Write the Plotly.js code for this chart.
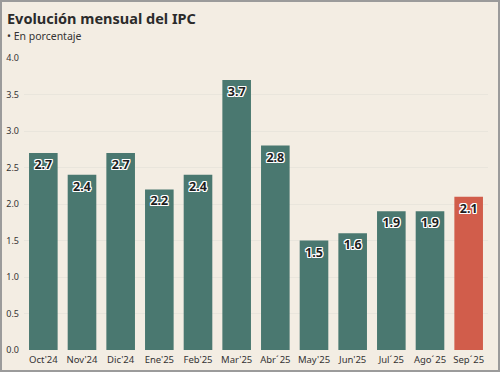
<!DOCTYPE html>
<html>
<head>
<meta charset="utf-8">
<script src="https://cdn.plot.ly/plotly-3.0.1.min.js"></script>
<style>
  html, body { margin: 0; padding: 0; background: #f3ede3; }
  #wrap { width: 500px; height: 372px; box-sizing: border-box; border: 2px solid #9b9b9b; background: #f3ede3; }
  #chart { width: 496px; height: 368px; }
</style>
</head>
<body>
<div id="wrap"><div id="chart"></div></div>
<script>
const categories = ["Oct'24", "Nov'24", "Dic'24", "Ene'25", "Feb'25", "Mar'25", "Abr\u00b4\u200a25", "May'25", "Jun'25", "Jul\u00b4\u200a25", "Ago\u00b4\u200a25", "Sep\u00b4\u200a25"];
const values = [2.7, 2.4, 2.7, 2.2, 2.4, 3.7, 2.8, 1.5, 1.6, 1.9, 1.9, 2.1];
const labels = values.map(v => v.toFixed(1));
const teal = '#4a7870';
const red = '#d15d4b';
const colors = values.map((v, i) => i === values.length - 1 ? red : teal);
const yTicks = [0, 0.5, 1, 1.5, 2, 2.5, 3, 3.5, 4];

const fontFam = '"Noto Sans", "Open Sans", sans-serif';
const halo = '1px 1px 0 #fff, -1px -1px 0 #fff, 1px -1px 0 #fff, -1px 1px 0 #fff, 0 1px 0 #fff, 0 -1px 0 #fff, 1px 0 0 #fff, -1px 0 0 #fff';

const trace = {
  type: 'bar',
  x: categories,
  y: values,
  text: labels,
  textposition: 'inside',
  insidetextanchor: 'end',
  textangle: 0,
  constraintext: 'none',
  textfont: { family: fontFam, size: 12.5, weight: 700, color: '#1e1e1e', shadow: halo },
  marker: { color: colors, line: { width: 0 } },
  hoverinfo: 'none'
};

const layout = {
  width: 496,
  height: 368,
  margin: { l: 22, r: 10, t: 56, b: 20 },
  paper_bgcolor: '#f3ede3',
  plot_bgcolor: '#f3ede3',
  bargap: 0.26,
  showlegend: false,
  font: { family: fontFam, color: '#333' },
  xaxis: {
    type: 'category',
    showgrid: false,
    zeroline: false,
    showline: false,
    ticks: '',
    tickfont: { size: 9.5, color: '#333' },
    ticklabelstandoff: 2
  },
  yaxis: {
    range: [0, 4],
    tickvals: yTicks,
    ticktext: yTicks.map(v => v.toFixed(1)),
    showgrid: true,
    gridcolor: '#e9e5dc',
    gridwidth: 1,
    zeroline: false,
    showline: false,
    ticks: '',
    tickfont: { size: 9, color: '#333' },
    ticklabelstandoff: 4,
    fixedrange: true
  },
  annotations: [
    {
      xref: 'paper', yref: 'paper', x: -0.042, y: 1, yshift: 52,
      xanchor: 'left', yanchor: 'top', showarrow: false,
      text: '<b>Evolución mensual del IPC</b>',
      font: { family: fontFam, size: 14.5, color: '#2b2b2b' }
    },
    {
      xref: 'paper', yref: 'paper', x: -0.042, y: 1, yshift: 31,
      xanchor: 'left', yanchor: 'top', showarrow: false,
      text: '• En porcentaje',
      font: { family: fontFam, size: 10.5, color: '#333' }
    }
  ]
};

Plotly.newPlot('chart', [trace], layout, { displayModeBar: false, staticPlot: true });
</script>
</body>
</html>
